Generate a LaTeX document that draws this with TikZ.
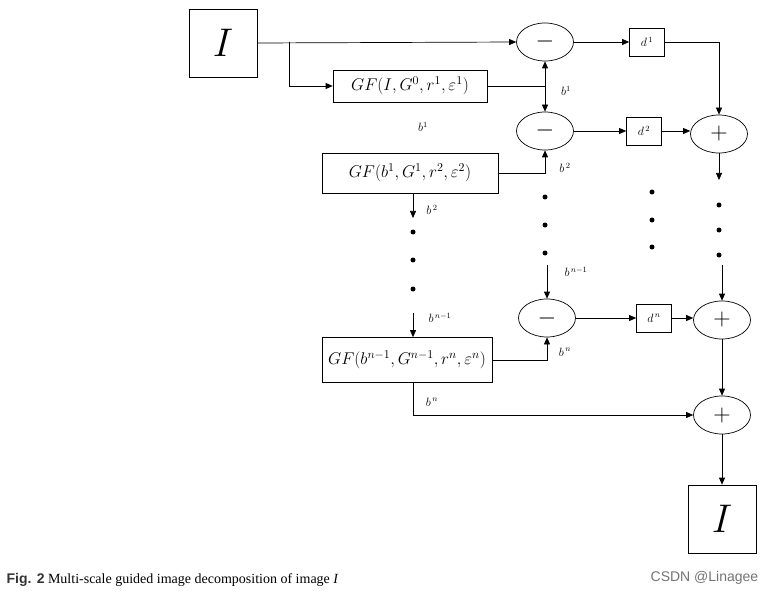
\RequirePackage{fix-cm}
\documentclass[tikz,border=0pt]{standalone}
\usepackage{fontspec}
\setmainfont{Liberation Serif}
\newfontfamily\capsans{Liberation Sans}
\usetikzlibrary{arrows.meta,shapes.geometric}
\begin{document}
\begin{tikzpicture}[x=1pt,y=-1pt,
  line width=0.7pt,
  arr/.style={-{Triangle[length=7pt,width=6pt]}},
  box/.style={draw,inner sep=3pt,font=\fontsize{17}{17}\selectfont},
  op/.style={draw,ellipse,minimum width=57pt,minimum height=38pt,inner sep=0pt,font=\fontsize{24}{24}\selectfont},
  dbox/.style={draw,minimum width=35pt,minimum height=28pt,inner sep=0pt,font=\fontsize{12}{12}\selectfont},
  big/.style={draw,minimum width=68pt,minimum height=68pt,font=\fontsize{40}{40}\selectfont},
  lab/.style={font=\fontsize{12}{12}\selectfont},
  dot/.style={circle,fill,inner sep=0pt,minimum size=5pt}]
\useasboundingbox (0,0) rectangle (777,599);
\node[big] (I) at (223,43) {$I$};
\node[op] (m1) at (545,42) {$-$};
\node[op] (m2) at (545,131) {$-$};
\node[op] (m3) at (547,318) {$-$};
\node[dbox] (d1) at (647,42) {$d^{\,1}$};
\node[dbox] (d2) at (644,131) {$d^{\,2}$};
\node[dbox] (dn) at (654,318) {$d^{\,n}$};
\node[op] (p1) at (719,134) {$+$};
\node[op] (p2) at (722,320) {$+$};
\node[op] (p3) at (722,415) {$+$};
\node[big] (O) at (722,519) {$I$};
\node[box,minimum width=154pt,minimum height=32pt] (g1) at (410,86) {$GF(I,G^0,r^1,\varepsilon^1)$};
\node[box,minimum width=176pt,minimum height=40pt] (g2) at (410,173) {$GF(b^1,G^1,r^2,\varepsilon^2)$};
\node[box,minimum width=170pt,minimum height=45pt] (gn) at (407,360) {$GF(b^{n-1},G^{n-1},r^n,\varepsilon^n)$};
\foreach \n/\x/\y in {a/545/197,b/545/225,c/545/253,d/652/192,e/652/220,f/652/247,g/719/205,h/719/230,i/719/255,j/413/232,k/413/260,l/413/289}
  \node[dot] (dot\n) at (\x,\y) {};
\coordinate (s1) at (289,42);
\coordinate (c1) at (545,86);
\coordinate (t3) at (547,265);
\coordinate (q1) at (719,180);
\coordinate (q2) at (722,265);
\coordinate (u1) at (413,218);
\coordinate (u2) at (413,313);
\coordinate (v) at (413,415);
\draw[arr] (I.east) -- (m1.west);
\draw[arr] (s1) |- (g1.west);
\draw (g1.east) -- (c1);
\draw[arr] (c1) -- (m1.south);
\draw[arr] (c1) -- (m2.north);
\draw[arr] (g2.east) -| (m2.south);
\draw[arr] (gn.east) -| (m3.south);
\draw[arr] (t3) -- (m3.north);
\draw[arr] (m1.east) -- (d1.west);
\draw[arr] (m2.east) -- (d2.west);
\draw[arr] (m3.east) -- (dn.west);
\draw[arr] (d1.east) -| (p1.north);
\draw[arr] (d2.east) -- (d2.east -| p1.west);
\draw[arr] (dn.east) -- (dn.east -| p2.west);
\draw[arr] (p1.south) -- (q1);
\draw[arr] (q2) -- (p2.north);
\draw[arr] (p2.south) -- (p3.north);
\draw[arr] (p3.south) -- (O.north);
\draw[arr] (g2.south -| u1) -- (u1);
\draw[arr] (u2) -- (gn.north -| u2);
\draw[arr] (gn.south -| v) -- (v) -- (p3.west);
\node[lab] (lb1) at (566,91) {$b^1$};
\node[lab] (lb1f) at (423,127) {$b^1$};
\node[lab] (lb2) at (565,168) {$b^{\,2}$};
\node[lab] (lb2l) at (432,210) {$b^{\,2}$};
\node[lab] (lbn1) at (576,272) {$b^{\,n-1}$};
\node[lab] (lbn1l) at (440,318) {$b^{\,n-1}$};
\node[lab] (lbn) at (565,352) {$b^{\,n}$};
\node[lab] (lbnl) at (432,402) {$b^{\,n}$};
\node[anchor=west,font=\fontsize{14}{14}\selectfont] (cap) at (3,580) {{\capsans\bfseries\color{black!80}Fig. 2} Multi-scale guided image decomposition of image \textit{I}};
\node[anchor=west,font=\capsans\fontsize{14}{14}\selectfont,text=black!55] (wm) at (647,578) {CSDN @Linagee};
\end{tikzpicture}
\end{document}
